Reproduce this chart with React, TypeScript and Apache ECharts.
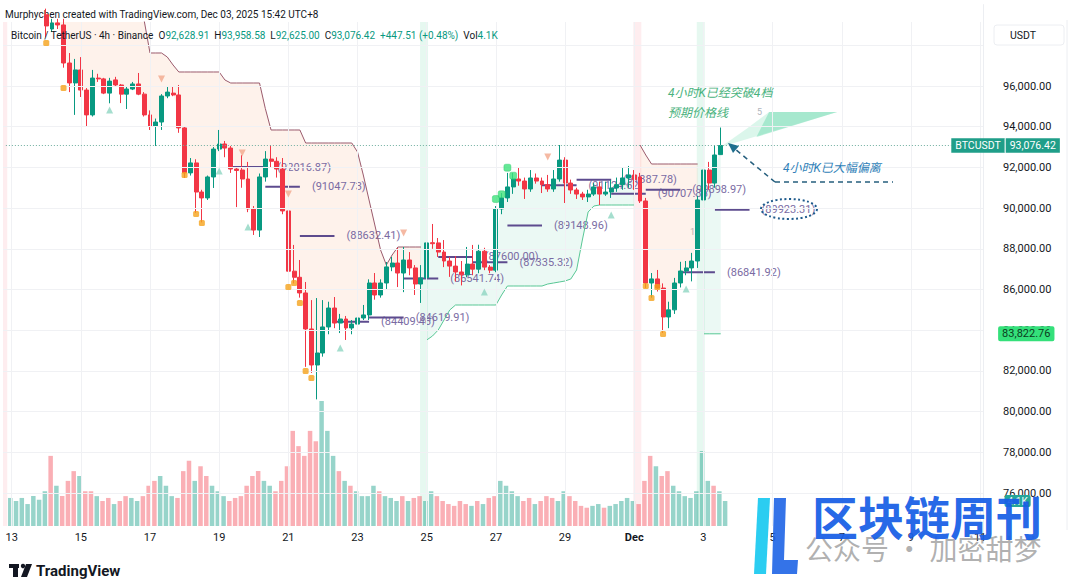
import React, { useEffect, useRef } from 'react';
import * as echarts from 'echarts';

const FONT = 'Roboto, "Noto Sans", "Noto Sans CJK SC", sans-serif';
const CJK = 'Roboto, "Noto Sans CJK SC", sans-serif';

// ---------- axis setup ----------
const START_UTC = Date.UTC(2025, 10, 12, 20, 0); // first slot: Nov 12 20:00 (UTC+8 wall time)
const SLOT_COUNT = 170; // 4h slots up to Dec 11 00:00
const FIRST_SLOT = 1; // slot of candle index 0 = Nov 13 00:00
const xTickLabels = ['13', '15', '17', '19', '21', '23', '25', '27', '29', 'Dec', '3', '5', '7', '9', '11'];
const priceTicks = [76000, 78000, 80000, 82000, 84000, 86000, 88000, 90000, 92000, 94000, 96000];
const priceGridLines = [76000, 78000, 80000, 82000, 84000, 86000, 88000, 90000, 92000, 94000, 96000, 98000];

// ---------- candles (index 0 = Nov 13 00:00, 4h each) [open, close, low, high] ----------
const CANDLE_START = 6;
const candles: number[][] = [
  [99500, 98950, 98400, 99800], [98800, 99100, 98650, 99300], [99100, 99000, 98800, 99300], [99000, 97130, 96900, 99300],
  [97130, 96150, 95700, 97620], [96150, 96790, 94580, 97330], [96790, 95800, 95460, 97420], [95800, 94580, 94030, 95900],
  [94580, 96390, 94500, 96790], [96390, 96350, 96200, 96600], [96350, 95650, 95600, 96400], [95650, 96240, 95150, 96400],
  [96300, 96050, 95950, 96450], [96050, 95600, 95160, 96100], [95600, 95850, 94870, 95950], [95850, 96100, 95800, 96200],
  [96100, 95600, 95550, 96640], [95600, 94580, 94500, 95700], [94580, 94030, 93840, 94800], [94030, 94230, 93050, 94400],
  [94230, 95510, 93840, 95600], [95510, 95700, 95400, 95950], [95650, 95560, 95500, 96000], [95560, 93940, 93700, 96050],
  [93940, 91730, 91480, 94000], [91730, 92220, 91600, 92460], [92220, 90790, 89760, 92400], [90790, 90500, 89300, 90900],
  [90500, 91530, 90400, 91600], [91530, 92900, 90990, 93000], [92900, 93150, 92800, 93840], [93150, 92950, 92500, 93300],
  [92950, 91920, 91730, 93050], [91920, 91850, 90050, 92000], [91870, 91430, 91000, 92600], [91430, 89960, 89800, 92270],
  [89960, 88920, 88680, 90100], [88920, 91530, 88580, 91700], [91530, 92410, 91300, 92800], [92410, 92300, 92000, 93100],
  [92300, 91920, 91500, 92500], [91920, 89860, 89700, 92460], [89860, 86900, 86800, 90000], [86900, 86600, 86300, 88190],
  [86600, 85830, 85600, 87450], [85830, 84060, 82200, 86370], [84060, 82290, 81900, 85480], [82290, 82880, 80600, 85580],
  [82880, 84160, 82700, 85480], [84160, 85090, 83800, 85400], [85090, 84350, 84100, 85630], [84350, 84550, 83860, 84800],
  [84550, 84110, 83520, 84700], [84110, 84300, 83800, 84500], [84300, 84600, 84100, 84750], [84600, 84750, 84500, 85240],
  [84750, 86320, 84500, 86500], [86320, 85730, 85500, 86810], [85730, 86320, 85600, 86500], [86320, 87110, 86000, 87350],
  [87110, 87300, 86900, 87600], [87300, 86810, 86120, 88040], [86810, 87450, 85870, 88090], [87450, 87060, 86700, 87840],
  [87060, 86270, 85730, 87200], [86270, 86570, 85340, 87200], [86570, 88290, 86300, 88820], [88300, 88250, 88000, 89220],
  [88290, 87840, 87600, 88530], [87840, 87400, 87100, 88430], [87400, 87150, 86620, 87600], [87150, 86860, 86400, 87640],
  [86860, 86720, 86200, 87400], [86720, 87250, 86600, 88090], [87250, 87000, 86700, 88190], [87000, 87880, 86800, 88200],
  [87880, 87100, 86950, 88050], [87100, 86950, 86800, 87200], [86950, 89960, 86850, 90100], [89960, 90500, 89700, 90740],
  [90500, 91040, 90300, 91730], [91040, 91430, 90700, 91730], [91430, 91330, 91100, 92000], [91330, 90940, 90450, 91500],
  [90940, 91480, 90800, 91870], [91480, 91330, 91200, 91700], [91330, 91150, 90740, 91500], [91150, 90940, 90800, 91630],
  [90940, 91430, 90800, 91870], [91430, 92360, 91300, 93100], [92360, 91230, 90250, 92500], [91230, 90890, 90700, 91400],
  [90890, 90690, 90450, 91000], [90690, 90550, 90400, 90800], [90550, 90690, 90300, 90900], [90690, 91040, 90600, 91230],
  [91040, 90690, 90150, 91300], [90690, 90790, 90600, 91300], [90790, 90990, 90500, 91380], [90990, 91150, 90800, 91500],
  [91150, 91480, 90900, 91970], [91480, 91630, 91000, 92070], [91630, 91400, 90900, 91870], [91530, 90350, 90250, 91730],
  [90350, 86320, 86070, 90500], [86320, 86520, 85600, 86810], [86520, 86070, 85900, 86960], [86070, 84650, 83860, 86300],
  [84650, 85000, 84100, 85400], [85000, 86320, 84800, 86570], [86320, 86910, 86100, 87360], [86910, 87060, 86700, 87400],
  [87060, 87400, 86400, 87800], [87400, 90400, 87060, 90600], [90400, 91870, 90200, 92270], [91870, 91230, 90900, 92270],
  [91230, 92610, 91000, 93100], [92628.91, 93076.42, 92625.0, 93958.58],
];

// ---------- volume in K BTC (index -1 .. 123) ----------
const VOL_START = -1;
const volumesK = [
  4.6,
  4.1, 4.6, 3.6, 4.9, 4.3, 5.7,
  11.5, 6.6, 4.9, 7.4, 9.0, 8.2, 5.7,
  5.7, 4.9, 4.1, 4.6, 3.6, 4.1, 4.9, 4.6,
  4.1, 4.9, 6.6, 7.4, 8.2, 6.6, 4.9, 4.6, 9.0, 10.7,
  7.4, 9.8, 8.2, 6.6, 5.7, 4.9, 4.1, 4.6, 4.9, 6.6,
  8.2, 9.0, 7.4, 6.6, 5.7, 7.4, 9.8, 15.6, 13.1, 11.5,
  15.6, 13.9, 20.5, 15.6, 11.5, 9.0, 7.4, 6.6, 5.7, 4.9,
  4.9, 6.6, 5.7, 4.9, 4.6, 4.1, 4.9, 4.1, 4.6, 4.9, 4.1, 5.7,
  4.9, 4.1, 3.6, 3.3, 4.1, 3.6, 3.3, 4.1, 3.6, 4.6, 4.9, 7.4,
  6.6, 5.7, 4.9, 4.1, 4.6, 3.6, 4.1, 4.9, 4.6, 4.1, 5.7,
  4.9, 4.1, 3.3, 3.0, 3.3, 3.6, 3.0, 3.3, 3.6, 4.1, 4.6, 4.1, 3.6,
  7.4, 11.5, 9.8, 8.2, 9.0, 6.6, 5.7, 4.9, 4.6, 5.7, 12.3,
  7.4, 6.6, 5.7, 4.1,
];

// ---------- trend bands (trailing stop) ----------
const DOWN1_START = 6;
const down1Band = [
  99700, 99700, 99700, 99700, 99700, 99700, 99700, 99700, 99700, 99700, 99700, 99700, 99700, 99700, 99700, 99700, 99700,
  99200, 97622, 97622, 97622, 97425, 97032,
  96688, 96688, 96688, 96688, 96688, 96688, 96688, 96688,
  96295, 96147, 96147, 96147, 96147, 96147, 96147,
  94900, 93838, 93838, 93838, 93838, 93838, 93838,
  93199, 93199, 93199, 93199, 93199, 93199, 93199, 93199, 93199,
  92757, 91627, 90398, 89170, 87941, 87204, 87695,
  88088, 88088, 88088, 88088, 88088,
];
const UP1_START = 72;
const up1Band = [
  83519, 83715, 84010, 84501, 84993,
  85238, 85238, 85238, 85238, 85238, 85238, 85238, 85238,
  85730, 86172, 86172, 86172, 86172, 86172, 86172, 86172,
  86270, 86319, 86368, 86418, 86516, 86958, 88432, 89808, 90103,
  90152, 90152, 90152, 90152, 90152, 90152, 90152,
];
const DOWN2_START = 109;
const down2Band = [93101, 92609, 92167, 92167, 92167, 92167, 92167, 92167, 92167, 92167, 92167];
const UP2_START = 120;
const up2Band = [83822.76, 83822.76, 83822.76, 83822.76];

const trendFlips = [
  { i: -1, dir: 'down' },
  { i: 72, dir: 'up' },
  { i: 109, dir: 'down' },
  { i: 120, dir: 'up' },
];

// ---------- projected price lines [startIndex, endIndex, price] ----------
const predLines = [
  [38, 44, 92016.87], [44, 50, 91047.73], [50, 56, 88632.41], [56, 62, 84409.46], [62, 68, 84619.91],
  [68, 74, 86541.74], [74, 80, 87600.0], [80, 86, 87335.32], [86, 92, 89148.96], [92, 98, 91124.62],
  [98, 104, 91387.78], [104, 110, 90707.85], [110, 116, 90898.97], [116, 122, 86841.92], [122, 128, 89923.31],
];

// ---------- signal markers [index, price] ----------
const sellSquares = [
  [6, 98113], [9, 95900], [30, 91627], [32, 89710], [33, 89268], [48, 86123], [49, 86319], [50, 85336],
  [51, 81995], [52, 81651], [110, 86172], [111, 85582], [112, 86123], [113, 83813],
];
const buySquares = [[84, 90447], [85, 90678], [86, 91985], [87, 91592]];
const upTriangles = [[17, 94821], [36, 91823], [41, 89071], [57, 83126], [82, 85877], [104, 89661], [117, 86024]];
const downTriangles = [[26, 96344], [40, 92708], [48, 90693], [68, 88776], [93, 92511]];

// ---------- projection fan drawing [index, price] ----------
const fanOuter = [[123, 93000], [127.5, 93900], [131.4, 94722], [143.2, 94722]];
const fanInner = [[129.2, 93494], [131.4, 94722], [143.2, 94722]];

const LAST_PRICE = 93076.42;
const STOP_PRICE = 83822.76;
const LAST_VOL_K = 4.1;

// ---------- layout ----------
const GRID_LEFT = 3;
const GRID_W = 980;
const PLOT_TOP = 22;
const PLOT_H = 504;
const USD_PER_PX = 49.14;
const Y_MAX = 96000 + 64 * USD_PER_PX;
const Y_MIN = Y_MAX - PLOT_H * USD_PER_PX;
const LBL_TOP = PLOT_TOP - (100000 - Y_MAX) / USD_PER_PX;
const LBL_H = 26000 / USD_PER_PX;
const VOL_MAX = PLOT_H * 0.164;

const UP = '#089981';
const DOWN = '#f23645';

function pad(n: number) {
  return n < 10 ? '0' + n : '' + n;
}

export default function App() {
  const ref = useRef<HTMLDivElement>(null);

  useEffect(() => {
    if (!ref.current) return;
    const chart = echarts.init(ref.current, undefined, { renderer: 'svg' });

    const categories: string[] = [];
    for (let k = 0; k < SLOT_COUNT; k++) {
      const d = new Date(START_UTC + k * 4 * 3600 * 1000);
      categories.push(`${d.getUTCMonth() + 1}-${pad(d.getUTCDate())} ${pad(d.getUTCHours())}:00`);
    }
    const slot = (i: number) => i + FIRST_SLOT;
    const empty = () => new Array(SLOT_COUNT).fill('-') as any[];

    const candleRows = candles.map((c, j) => [categories[slot(CANDLE_START + j)], c[0], c[1], c[2], c[3]]);
    const candleAt = (i: number) => candles[i - CANDLE_START];
    const mid = (i: number) => {
      const c = candleAt(i);
      return c ? (c[0] + c[1]) / 2 : NaN;
    };

    const volData = empty();
    volumesK.forEach((v, j) => {
      const i = VOL_START + j;
      const c = candleAt(i);
      const up = c ? c[1] >= c[0] : true;
      volData[slot(i)] = { value: v, itemStyle: { color: up ? 'rgba(8,153,129,0.42)' : 'rgba(242,54,69,0.4)' } };
    });

    const dnBase = empty(), dnDiff = empty(), upBase = empty(), upDiff = empty();
    const dnLine = empty(), upLine = empty();
    const addDown = (start: number, arr: number[]) =>
      arr.forEach((b, j) => {
        const i = start + j;
        dnLine[slot(i)] = b;
        const m = mid(i);
        if (!isNaN(m)) {
          dnBase[slot(i)] = m;
          dnDiff[slot(i)] = b - m;
        }
      });
    const addUp = (start: number, arr: number[]) =>
      arr.forEach((b, j) => {
        const i = start + j;
        upLine[slot(i)] = b;
        const m = mid(i);
        upBase[slot(i)] = b;
        upDiff[slot(i)] = m - b;
      });
    addDown(DOWN1_START, down1Band);
    addUp(UP1_START, up1Band);
    addDown(DOWN2_START, down2Band);
    addUp(UP2_START, up2Band);

    const stripeData = empty();
    trendFlips.forEach((f) => {
      stripeData[slot(f.i)] = {
        value: 1,
        itemStyle: { color: f.dir === 'up' ? 'rgba(60,200,140,0.13)' : 'rgba(242,90,110,0.11)' },
      };
    });

    const toPts = (arr: number[][]) => arr.map((p) => [categories[slot(p[0])], p[1]]);

    const fracCoord = (api: any, idx: number, v: number) => {
      const f = Math.floor(idx);
      const a = api.coord([f, v]);
      const b = api.coord([f + 1, v]);
      return [a[0] + (b[0] - a[0]) * (idx - f), a[1]];
    };

    const gridMarks = [
      ...priceGridLines.map((p) => ({ yAxis: p })),
      ...xTickLabels.map((_, n) => ({ xAxis: 1 + n * 12 })),
    ];

    const hidden = { width: 0, color: 'rgba(0,0,0,0)' };

    const option: any = {
      animation: false,
      textStyle: { fontFamily: FONT },
      grid: [
        { left: GRID_LEFT, top: PLOT_TOP, width: GRID_W, height: PLOT_H },
        { left: GRID_LEFT, top: LBL_TOP, width: GRID_W, height: LBL_H },
      ],
      xAxis: [
        {
          type: 'category',
          gridIndex: 0,
          data: categories,
          boundaryGap: true,
          axisLine: { show: false },
          axisTick: { show: false },
          splitLine: { show: false },
          axisLabel: {
            interval: (idx: number) => idx >= 1 && (idx - 1) % 12 === 0,
            formatter: (_v: string, idx: number) => {
              const t = xTickLabels[(idx - 1) / 12];
              return t === 'Dec' ? '{b|Dec}' : t;
            },
            color: '#131722',
            fontSize: 11,
            margin: 6,
            rich: { b: { fontWeight: 'bold', fontSize: 11, color: '#131722' } },
          },
        },
        { type: 'category', gridIndex: 1, data: categories, show: false },
      ],
      yAxis: [
        { type: 'value', gridIndex: 0, min: Y_MIN, max: Y_MAX, show: false },
        {
          type: 'value',
          gridIndex: 1,
          min: 74000,
          max: 100000,
          interval: 2000,
          position: 'right',
          axisLine: { show: true, lineStyle: { color: '#eceef2' } },
          axisTick: { show: false },
          splitLine: { show: false },
          axisLabel: {
            margin: 20,
            color: '#131722',
            fontSize: 11,
            formatter: (v: number) =>
              priceTicks.indexOf(v) >= 0 ? v.toLocaleString('en-US', { minimumFractionDigits: 2 }) : '',
          },
        },
        { type: 'value', gridIndex: 0, min: 0, max: VOL_MAX, show: false },
        { type: 'value', gridIndex: 0, min: 0, max: 1, show: false },
      ],
      series: [
        {
          name: 'grid',
          type: 'line',
          xAxisIndex: 0,
          yAxisIndex: 0,
          data: empty(),
          silent: true,
          z: 0,
          markLine: {
            silent: true,
            symbol: 'none',
            label: { show: false },
            lineStyle: { color: '#f0f1f4', width: 1, type: 'solid' },
            data: gridMarks,
          },
        },
        {
          name: 'flips',
          type: 'bar',
          xAxisIndex: 0,
          yAxisIndex: 3,
          data: stripeData,
          barWidth: 8,
          silent: true,
          z: 0,
        },
        {
          name: 'volume',
          type: 'bar',
          xAxisIndex: 0,
          yAxisIndex: 2,
          data: volData,
          barWidth: '78%',
          silent: true,
          z: 1,
          markLine: {
            silent: true,
            symbol: 'none',
            lineStyle: hidden,
            data: [
              [
                { coord: [categories[SLOT_COUNT - 2], LAST_VOL_K] },
                {
                  coord: [categories[SLOT_COUNT - 1], LAST_VOL_K],
                  lineStyle: hidden,
                  label: {
                    show: true,
                    position: 'end',
                    distance: 20,
                    formatter: '4.1K',
                    backgroundColor: '#26a69a',
                    color: '#ffffff',
                    fontSize: 10,
                    padding: [1, 3],
                    borderRadius: 2,
                  },
                },
              ],
            ],
          },
        },
        {
          name: 'dnBase', type: 'line', stack: 'dn', data: dnBase, symbol: 'none', silent: true,
          lineStyle: { width: 0 }, z: 1,
        },
        {
          name: 'dnFill', type: 'line', stack: 'dn', data: dnDiff, symbol: 'none', silent: true,
          lineStyle: { width: 0 }, areaStyle: { color: 'rgba(248,160,115,0.2)' }, z: 1,
        },
        {
          name: 'upBase', type: 'line', stack: 'up', data: upBase, symbol: 'none', silent: true,
          lineStyle: { width: 0 }, z: 1,
        },
        {
          name: 'upFill', type: 'line', stack: 'up', data: upDiff, symbol: 'none', silent: true,
          lineStyle: { width: 0 }, areaStyle: { color: 'rgba(70,200,150,0.15)' }, z: 1,
        },
        {
          name: 'downBand', type: 'line', data: dnLine, symbol: 'none', silent: true,
          lineStyle: { color: '#9a5a6c', width: 1 }, z: 2,
        },
        {
          name: 'upBand', type: 'line', data: upLine, symbol: 'none', silent: true,
          lineStyle: { color: '#58c795', width: 1 }, z: 2,
          markLine: {
            silent: true,
            symbol: 'none',
            lineStyle: hidden,
            data: [
              [
                { coord: [categories[SLOT_COUNT - 2], STOP_PRICE] },
                {
                  coord: [categories[SLOT_COUNT - 1], STOP_PRICE],
                  lineStyle: hidden,
                  label: {
                    show: true,
                    position: 'end',
                    distance: 18,
                    formatter: STOP_PRICE.toLocaleString('en-US', { minimumFractionDigits: 2 }),
                    backgroundColor: '#34e07a',
                    color: '#0b3d20',
                    fontSize: 11,
                    padding: [2, 4],
                    borderRadius: 2,
                  },
                },
              ],
            ],
          },
        },
        {
          name: 'fan',
          type: 'custom',
          xAxisIndex: 0,
          yAxisIndex: 0,
          silent: true,
          z: 1,
          data: [[0], [1]],
          encode: { x: -1, y: -1 },
          renderItem: (params: any, api: any) => {
            const poly = params.dataIndex === 0 ? fanOuter : fanInner;
            const pts = poly.map((p) => fracCoord(api, slot(p[0]), p[1]));
            return {
              type: 'polygon',
              shape: { points: pts },
              style: { fill: params.dataIndex === 0 ? 'rgba(90,215,165,0.22)' : 'rgba(80,210,160,0.38)' },
            };
          },
        },
        {
          name: 'pred',
          type: 'custom',
          xAxisIndex: 0,
          yAxisIndex: 0,
          silent: true,
          z: 2,
          encode: { x: [0, 1], y: 2 },
          data: predLines.map((p) => [slot(p[0]), slot(p[1]), p[2]]),
          renderItem: (_params: any, api: any) => {
            const s = api.value(0);
            const e = api.value(1);
            const v = api.value(2);
            const a = api.coord([s, v]);
            const b = api.coord([e, v]);
            return {
              type: 'group',
              children: [
                {
                  type: 'line',
                  shape: { x1: a[0], y1: a[1], x2: b[0], y2: b[1] },
                  style: { stroke: '#5d4b8e', lineWidth: 2 },
                },
                {
                  type: 'text',
                  x: b[0] + 12,
                  y: a[1],
                  style: {
                    text: '(' + v.toFixed(2) + ')',
                    fill: '#7a6ba3',
                    font: '11px ' + FONT,
                    verticalAlign: 'middle',
                    align: 'left',
                  },
                },
              ],
            };
          },
        },
        {
          name: 'BTCUSDT',
          type: 'candlestick',
          xAxisIndex: 0,
          yAxisIndex: 0,
          z: 4,
          encode: { x: 0, y: [1, 2, 3, 4] },
          data: candleRows,
          barWidth: 4.4,
          itemStyle: { color: UP, color0: DOWN, borderColor: UP, borderColor0: DOWN, borderWidth: 1 },
          markLine: {
            silent: true,
            symbol: 'none',
            lineStyle: { color: '#6fae9f', width: 1, type: [1, 2] },
            data: [
              [
                { coord: [categories[0], LAST_PRICE] },
                {
                  coord: [categories[164], LAST_PRICE],
                  label: {
                    show: true,
                    position: 'end',
                    distance: 0,
                    formatter: '{a|BTCUSDT}{s|}{b|' + LAST_PRICE.toLocaleString('en-US', { minimumFractionDigits: 2 }) + '}',
                    rich: {
                      a: { backgroundColor: '#1f9e89', color: '#ffffff', fontSize: 10.5, padding: [2, 4, 2, 4], lineHeight: 13 },
                      s: { backgroundColor: 'rgba(255,255,255,0.55)', width: 1, height: 13 },
                      b: { backgroundColor: '#1f9e89', color: '#ffffff', fontSize: 10.5, padding: [2, 4, 2, 4], lineHeight: 13 },
                    },
                  },
                },
              ],
            ],
          },
        },
        {
          name: 'sell', type: 'scatter', data: toPts(sellSquares), symbol: 'roundRect', symbolSize: 6,
          itemStyle: { color: '#f5a21c' }, z: 5, silent: true,
        },
        {
          name: 'buy', type: 'scatter', data: toPts(buySquares), symbol: 'roundRect', symbolSize: 7,
          itemStyle: { color: '#3ee27c', borderColor: '#23c763', borderWidth: 0.5 }, z: 5, silent: true,
        },
        {
          name: 'upTri', type: 'scatter', data: toPts(upTriangles), symbol: 'triangle', symbolSize: 7,
          itemStyle: { color: '#8fd6c2' }, z: 5, silent: true,
        },
        {
          name: 'dnTri', type: 'scatter', data: toPts(downTriangles), symbol: 'triangle', symbolSize: 7,
          symbolRotate: 180, itemStyle: { color: '#f2a78c' }, z: 5, silent: true,
        },
      ],
      graphic: [
        {
          type: 'text',
          x: 5,
          y: 14,
          style: {
            text: 'Murphychen created with TradingView.com, Dec 03, 2025 15:42 UTC+8',
            fill: '#131722',
            font: '10px ' + FONT,
            verticalAlign: 'middle',
          },
        },
        {
          type: 'text',
          x: 11,
          y: 35,
          z: 10,
          style: {
            text:
              '{d|Bitcoin / TetherUS · 4h · Binance}  {d|O}{g|92,628.91}  {d|H}{g|93,958.58}  {d|L}{g|92,625.00}  {d|C}{g|93,076.42}  {g|+447.51 (+0.48%)}  {d|Vol}{g|4.1K}',
            verticalAlign: 'middle',
            font: '10px ' + FONT,
            rich: {
              d: { fill: '#131722', font: '10px ' + FONT },
              g: { fill: '#089981', font: '10px ' + FONT },
            },
          },
        },
        {
          type: 'rect',
          shape: { x: 994, y: 25, width: 70, height: 20, r: 3 },
          style: { fill: '#ffffff', stroke: '#eceef2', lineWidth: 1 },
        },
        {
          type: 'text',
          x: 1010,
          y: 35,
          style: { text: 'USDT', fill: '#131722', font: '10.5px ' + FONT, verticalAlign: 'middle' },
        },
        {
          type: 'line',
          shape: { x1: 1067, y1: 20, x2: 1067, y2: 530 },
          style: { stroke: '#eceef2', lineWidth: 1 },
        },
        // TradingView logo
        { type: 'rect', shape: { x: 9, y: 564, width: 10, height: 4 }, style: { fill: '#131722' } },
        { type: 'rect', shape: { x: 13, y: 564, width: 5, height: 13 }, style: { fill: '#131722' } },
        { type: 'circle', shape: { cx: 23, cy: 566, r: 2.2 }, style: { fill: '#131722' } },
        { type: 'polygon', shape: { points: [[26, 564], [32, 564], [27, 577], [21, 577]] }, style: { fill: '#131722' } },
        {
          type: 'text',
          x: 36,
          y: 571,
          style: { text: 'TradingView', fill: '#131722', font: 'bold 15px ' + FONT, verticalAlign: 'middle' },
        },
        // annotations
        {
          type: 'text',
          x: 668,
          y: 93,
          z: 20,
          style: { text: '4小时K已经突破4档', fill: '#49b27d', font: 'italic 12px ' + CJK, verticalAlign: 'middle' },
        },
        {
          type: 'text',
          x: 668,
          y: 113,
          z: 20,
          style: { text: '预期价格线', fill: '#49b27d', font: 'italic 12px ' + CJK, verticalAlign: 'middle' },
        },
        {
          type: 'text',
          x: 783,
          y: 168,
          z: 20,
          style: { text: '4小时K已大幅偏离', fill: '#2f7fb8', font: 'italic 12px ' + CJK, verticalAlign: 'middle' },
        },
        {
          type: 'line',
          z: 20,
          shape: { x1: 775, y1: 182, x2: 893, y2: 182 },
          style: { stroke: '#265f7e', lineWidth: 1.5, lineDash: [5, 4] },
        },
        {
          type: 'line',
          z: 20,
          shape: { x1: 775, y1: 182, x2: 735, y2: 149 },
          style: { stroke: '#265f7e', lineWidth: 1.5, lineDash: [5, 4] },
        },
        {
          type: 'polygon',
          z: 20,
          shape: { points: [[728, 143], [739, 146], [733, 153]] },
          style: { fill: '#1f6f8e' },
        },
        {
          type: 'ellipse',
          z: 20,
          shape: { cx: 789, cy: 209, rx: 28, ry: 10 },
          style: { fill: 'none', stroke: '#1d5a8c', lineWidth: 2, lineDash: [2, 2.5] },
        },
        { type: 'text', x: 757, y: 112, style: { text: '5', fill: '#b0b4bc', font: '9px ' + FONT, verticalAlign: 'middle' } },
        { type: 'text', x: 690, y: 232, style: { text: '1', fill: '#b0b4bc', font: '9px ' + FONT, verticalAlign: 'middle' } },
        // watermark
        {
          type: 'polygon',
          z: 30,
          shape: { points: [[758, 498], [770, 498], [766, 574], [754, 574]] },
          style: { fill: 'rgba(20,200,240,0.9)' },
        },
        {
          type: 'polygon',
          z: 30,
          shape: { points: [[774, 498], [786, 498], [784, 560], [798, 560], [797, 574], [772, 574]] },
          style: { fill: 'rgba(30,100,230,0.9)' },
        },
        {
          type: 'text',
          x: 805,
          y: 548,
          z: 30,
          style: { text: '公众号 · 加密甜梦', fill: 'rgba(110,110,110,0.55)', font: '28px "Noto Sans CJK SC"', verticalAlign: 'middle' },
        },
        {
          type: 'text',
          x: 812,
          y: 515,
          z: 31,
          style: { text: '区块链周刊', fill: 'rgba(25,95,230,0.95)', font: 'bold 46px "Noto Sans CJK SC"', verticalAlign: 'middle' },
        },
      ],
    };

    chart.setOption(option);
    return () => chart.dispose();
  }, []);

  return (
    <div
      ref={ref}
      style={{ position: 'fixed', left: 0, top: 0, width: 1080, height: 588, background: '#ffffff' }}
    />
  );
}
